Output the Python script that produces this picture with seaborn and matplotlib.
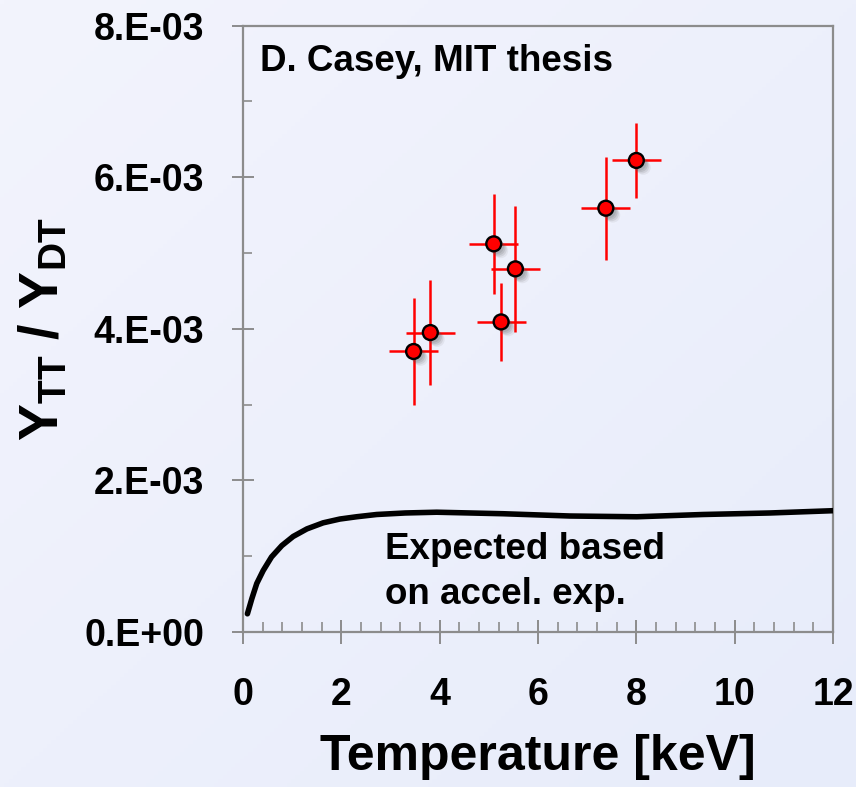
import numpy as np
import pandas as pd
import matplotlib
matplotlib.use("Agg")
import matplotlib.pyplot as plt
import matplotlib.patheffects as pe
from matplotlib.ticker import MultipleLocator
import seaborn as sns

# Measured TT/DT yield ratios with uncertainties
temperature_kev = [3.47, 3.81, 5.10, 5.25, 5.54, 7.38, 8.00]
yield_ratio = [3.70e-3, 3.95e-3, 5.12e-3, 4.09e-3, 4.79e-3, 5.59e-3, 6.22e-3]
ratio_err = [0.70e-3, 0.69e-3, 0.66e-3, 0.51e-3, 0.83e-3, 0.68e-3, 0.50e-3]
temp_err = [0.5, 0.5, 0.5, 0.5, 0.5, 0.5, 0.5]

# Ratio expected from accelerator cross-section measurements
curve_temp = [0.09, 0.18, 0.28, 0.41, 0.58, 0.79, 1.02, 1.30, 1.63, 1.97,
              2.31, 2.72, 3.30, 3.94, 5.29, 6.65, 8.01, 9.36, 10.72, 12.0]
curve_ratio = [0.24e-3, 0.44e-3, 0.64e-3, 0.81e-3, 0.99e-3, 1.14e-3, 1.26e-3,
               1.36e-3, 1.44e-3, 1.49e-3, 1.52e-3, 1.55e-3, 1.57e-3, 1.58e-3,
               1.56e-3, 1.53e-3, 1.52e-3, 1.55e-3, 1.57e-3, 1.60e-3]

xtick_values = [0, 2, 4, 6, 8, 10, 12]
ytick_values = [0, 2e-3, 4e-3, 6e-3, 8e-3]
ytick_labels = ["0.E+00", "2.E-03", "4.E-03", "6.E-03", "8.E-03"]

measured = pd.DataFrame({"T": temperature_kev, "ratio": yield_ratio})
expected = pd.DataFrame({"T": curve_temp, "ratio": curve_ratio})

sns.set_theme(style="white")
FAMILY = ["Liberation Sans", "DejaVu Sans"]
plt.rcParams["font.family"] = FAMILY
plt.rcParams["font.weight"] = "bold"
plt.rcParams["mathtext.fontset"] = "custom"
plt.rcParams["mathtext.default"] = "bf"
plt.rcParams["mathtext.bf"] = "Liberation Sans:bold"
plt.rcParams["mathtext.rm"] = "Liberation Sans:bold"
plt.rcParams["mathtext.it"] = "Liberation Sans:bold"
for key in ("text.color", "axes.labelcolor", "xtick.color", "ytick.color"):
    plt.rcParams[key] = "black"

fig = plt.figure(figsize=(8.56, 7.87), dpi=100)

# soft lavender backdrop
bg = fig.add_axes([0, 0, 1, 1], zorder=-10)
gy, gx = np.mgrid[0:1:200j, 0:1:200j]
shade = 0.5 * gx + 0.5 * gy
top_left = np.array([243, 244, 253]) / 255
bottom_right = np.array([231, 236, 250]) / 255
img = top_left[None, None, :] * (1 - shade[..., None]) + bottom_right[None, None, :] * shade[..., None]
bg.imshow(img, aspect="auto", extent=[0, 1, 0, 1], origin="upper")
bg.set_axis_off()

ax = fig.add_axes([243 / 856, 1 - 632 / 787, 590 / 856, 606.5 / 787])
ax.set_facecolor("none")

grey = "#8c8c8c"

sns.lineplot(data=expected, x="T", y="ratio", ax=ax, color="black",
             linewidth=4.0, zorder=3)

ax.errorbar(temperature_kev, yield_ratio, xerr=temp_err, yerr=ratio_err,
            fmt="none", ecolor="#ff0000", elinewidth=1.8, capsize=0, zorder=4)

sns.scatterplot(data=measured, x="T", y="ratio", ax=ax, s=115, color="#ff0000",
                edgecolor="black", linewidth=1.7, zorder=5)
dots = ax.collections[-1]
dots.set_path_effects([
    pe.SimplePatchShadow(offset=(5, -5), shadow_rgbFace="#555", alpha=0.08),
    pe.SimplePatchShadow(offset=(4, -4), shadow_rgbFace="#555", alpha=0.12),
    pe.SimplePatchShadow(offset=(3, -3), shadow_rgbFace="#555", alpha=0.15),
    pe.SimplePatchShadow(offset=(2, -2), shadow_rgbFace="#555", alpha=0.15),
    pe.Normal(),
])

ax.set_xlim(0, 12)
ax.set_ylim(0, 8e-3)
ax.set_xticks(xtick_values)
ax.set_xticklabels([str(v) for v in xtick_values])
ax.set_yticks(ytick_values)
ax.set_yticklabels(ytick_labels)
ax.xaxis.set_minor_locator(MultipleLocator(0.4))
ax.yaxis.set_minor_locator(MultipleLocator(1e-3))

ax.tick_params(axis="x", which="major", direction="inout", length=17, width=1.4,
               color=grey, labelcolor="black", labelsize=27, pad=24,
               bottom=True, top=False)
ax.tick_params(axis="x", which="minor", direction="in", length=7, width=1.2,
               color=grey, bottom=True, top=False)
ax.tick_params(axis="y", which="major", direction="inout", length=16, width=1.4,
               color=grey, labelcolor="black", labelsize=27, pad=20,
               left=True, right=False)
ax.tick_params(axis="y", which="minor", direction="in", length=6.5, width=1.2,
               color=grey, left=True, right=False)
for lab in ax.get_xticklabels() + ax.get_yticklabels():
    lab.set_fontweight("bold")

for side in ["left", "right", "top", "bottom"]:
    ax.spines[side].set_visible(True)
    ax.spines[side].set_color(grey)
    ax.spines[side].set_linewidth(1.6)

ax.set_xlabel("Temperature [keV]", fontsize=36, fontweight="bold")
ax.xaxis.set_label_coords(0.5, -0.168)
ax.set_ylabel(r"Y$_{TT}$ / Y$_{DT}$", fontsize=40, fontweight="bold")
ax.yaxis.set_label_coords(-0.292, 0.5)

ax.text(0.35, 7.40e-3, "D. Casey, MIT thesis", fontsize=26.5, fontweight="bold",
        va="baseline", ha="left")
ax.text(2.89, 0.957e-3, "Expected based", fontsize=26.5, fontweight="bold",
        va="baseline", ha="left")
ax.text(2.89, 0.363e-3, "on accel. exp.", fontsize=26.5, fontweight="bold",
        va="baseline", ha="left")

fig.savefig("out.png", dpi=100)
